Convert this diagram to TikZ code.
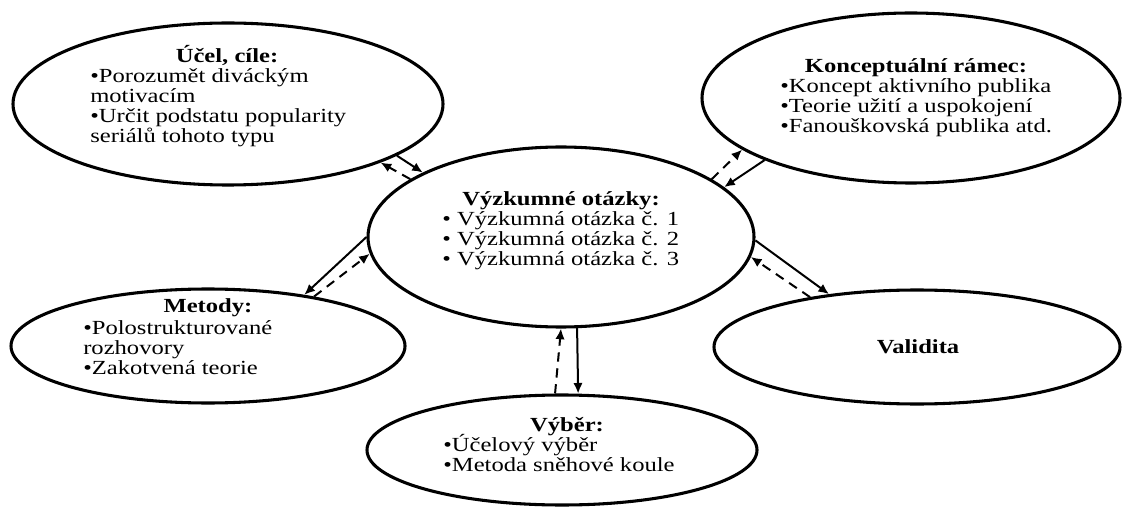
\documentclass[tikz,border=0pt]{standalone}
\usepackage{fontspec}
\setmainfont{Liberation Serif}[FakeStretch=1.23]
\usetikzlibrary{arrows.meta,shapes.geometric}
\begin{document}
\begin{tikzpicture}[x=0.75pt,y=-0.75pt,
  ell/.style={draw, line width=2.3pt, ellipse, inner sep=0pt},
  txt/.style={inner sep=0pt, font=\fontsize{15}{15}\selectfont, align=left, anchor=base west},
  ttl/.style={inner sep=0pt, font=\fontsize{15}{15}\selectfont\bfseries, anchor=base},
  sol/.style={line width=1.5pt, -{Latex[length=8pt,width=7pt]}},
  das/.style={sol, dash pattern=on 7pt off 5pt}]
\useasboundingbox (0,0) rectangle (1123,509);

% ellipses
\node[ell, minimum width=430*0.75pt, minimum height=162*0.75pt] (U) at (228,104) {};
\node[ell, minimum width=418*0.75pt, minimum height=170*0.75pt] (K) at (911,98) {};
\node[ell, minimum width=386*0.75pt, minimum height=180*0.75pt] (C) at (561,237) {};
\node[ell, minimum width=394*0.75pt, minimum height=114*0.75pt] (M) at (208,346) {};
\node[ell, minimum width=390*0.75pt, minimum height=110*0.75pt] (V) at (562,450) {};
\node[ell, minimum width=406*0.75pt, minimum height=114*0.75pt] (L) at (917,347) {};

% texts (base anchor of a multi-line node = baseline of its last line)
\node[ttl] (Ut) at (227,63) {Účel, cíle:};
\node[txt] (Ub) at (90,143) {•Porozumět diváckým\\motivacím\\•Určit podstatu popularity\\seriálů tohoto typu};

\node[ttl] (Kt) at (916,73) {Konceptuální rámec:};
\node[txt] (Kb) at (780,133) {•Koncept aktivního publika\\•Teorie užití a uspokojení\\•Fanouškovská publika atd.};

\node[ttl] (Ct) at (561,206) {Výzkumné otázky:};
\node[txt] (Cb) at (442,266) {• Výzkumná otázka č. 1\\• Výzkumná otázka č. 2\\• Výzkumná otázka č. 3};

\node[ttl] (Mt) at (208,313) {Metody:};
\node[txt] (Mb) at (83,374) {•Polostrukturované\\rozhovory\\•Zakotvená teorie};

\node[ttl] (Vt) at (567,431) {Výběr:};
\node[txt] (Vb) at (443,471) {•Účelový výběr\\•Metoda sněhové koule};

\node[ttl] (Lt) at (918,353) {Validita};

% connectors
\draw[sol] (U.-17) -- (C.155);
\draw[das] (C.159.6) -- (U.-21.5);

\draw[das] (C.21.9) -- (K.-163);
\draw[sol] (K.-157.7) -- (C.17.3);

\draw[sol] (C.180) -- (M.28.7);
\draw[das] (M.25.9) -- (C.185.4);

\draw[sol] (C.-1) -- (L.149.1);
\draw[das] (L.155.4) -- (C.-6);

\draw[das] (V.97.3) -- (C.-90.6);
\draw[sol] (C.-80.2) -- (V.74.7);
\end{tikzpicture}
\end{document}
